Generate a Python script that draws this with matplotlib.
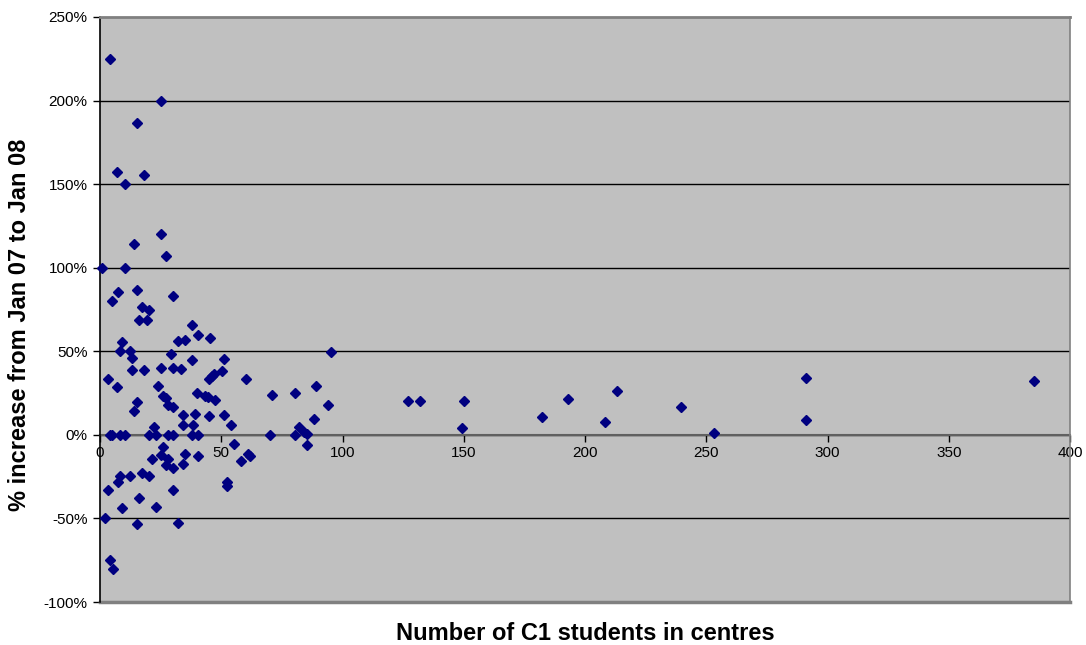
import matplotlib
matplotlib.use('Agg')
import matplotlib.pyplot as plt
from matplotlib.ticker import FuncFormatter, MultipleLocator

# Daten: Anzahl C1-Schueler je Zentrum und prozentuale Veraenderung
schueler = [
    4.1, 25.3, 15.1, 7.1, 18.1, 10.2, 25.3, 14.1, 27.2, 0.9,
    10.2, 7.3, 5.1, 15.1, 30.1, 17.2, 20.2, 16.0, 19.2, 38.1,
    40.3, 45.2, 9.2, 32.0, 35.0, 8.1, 12.4, 13.3, 29.1, 51.3,
    38.1, 13.3, 18.1, 25.3, 30.1, 33.3, 50.2, 47.0, 46.1, 45.1,
    60.1, 3.2, 7.1, 24.0, 26.1, 27.3, 27.9, 30.1, 15.1, 14.1,
    40.1, 43.3, 44.4, 47.3, 70.9, 34.2, 39.2, 45.1, 51.3, 54.1,
    34.2, 38.2, 22.4,
    4.0, 4.8, 8.1, 10.2, 20.2, 23.2, 27.9, 30.1, 38.1, 40.4, 70.2, 80.3,
    55.4, 26.1, 25.3, 28.2, 21.3, 35.1, 40.3, 27.1, 30.1, 34.2,
    58.1, 61.2, 62.0, 17.2, 20.2, 12.2, 8.2, 7.3, 52.2, 52.4,
    3.2, 30.2, 16.2, 9.2, 23.1, 2.2, 15.1, 32.3, 4.0, 5.2,
    95.1, 80.3, 89.1, 94.1, 88.1, 82.1, 84.1, 85.2, 85.2,
    127.1, 132.1, 150.1, 149.1, 182.1, 193.1, 208.1, 213.1, 239.5,
    253.1, 291.0, 291.0, 385.2,
]
zuwachs = [
    225, 200, 186.5, 157, 155.3, 150, 120, 114.2, 107, 100,
    100, 85.5, 80, 86.5, 83, 76.6, 74.8, 68.8, 68.6, 65.8,
    60, 57.8, 55.6, 56.4, 56.8, 50, 50, 46, 48.3, 45.2,
    44.9, 38.7, 38.9, 40, 40, 39.5, 38.2, 36.5, 35.3, 33.3,
    33.5, 33.5, 28.7, 29.3, 23.5, 22.3, 17.9, 16.7, 19.9, 14.2,
    25.3, 23.5, 22.9, 21.1, 23.9, 11.8, 12.7, 11, 11.8, 5.6,
    5.8, 5.6, 5,
    0, 0, 0, 0, 0, 0, 0, 0, 0, 0, 0, 0,
    -5.4, -7.2, -11.8, -14.4, -14.4, -11.2, -12.4, -17.9, -20, -17.5,
    -15.4, -11.5, -12.6, -23.1, -24.7, -24.9, -24.5, -28.5, -28.5, -30.3,
    -33, -33.1, -37.5, -44, -43.3, -49.8, -53.2, -53, -74.8, -80,
    49.6, 25.1, 29.1, 17.9, 9.4, 4.8, 1.8, 0.4, -5.8,
    20.5, 20.5, 20.1, 4, 10.6, 21.7, 7.8, 26.3, 16.9,
    1, 33.9, 8.8, 32.5,
]

plt.rcParams['font.family'] = ['Liberation Sans', 'DejaVu Sans']

fig = plt.figure(figsize=(10.86, 6.45), dpi=100)
ax = fig.add_axes([100 / 1086, 1 - 602 / 645, 970 / 1086, 585 / 645])
ax.set_facecolor('#C0C0C0')

ax.set_xlim(0, 400)
ax.set_ylim(-100, 250)

# Gitterlinien
for y in range(-50, 250, 50):
    ax.axhline(y, color='black', lw=1, zorder=1)

ax.plot(schueler, zuwachs, ls='none', marker='D', ms=5.2,
        color='#000080', zorder=3, clip_on=False)

# Achsen im Excel-Stil
ax.spines['bottom'].set_position(('data', 0))
ax.spines['bottom'].set_color('#606060')
ax.spines['bottom'].set_linewidth(1.5)
ax.spines['bottom'].set_zorder(2)
ax.spines['left'].set_color('black')
ax.spines['left'].set_linewidth(1.2)
ax.spines['top'].set_color('#808080')
ax.spines['top'].set_linewidth(2)
ax.spines['right'].set_color('#808080')
ax.spines['right'].set_linewidth(1.2)
ax.plot([0, 400], [-100, -100], color='#808080', lw=2.5, clip_on=False, zorder=2)

ax.xaxis.set_major_locator(MultipleLocator(50))
ax.yaxis.set_major_locator(MultipleLocator(50))
ax.yaxis.set_major_formatter(FuncFormatter(lambda v, p: f'{int(round(v))}%'))
ax.tick_params(axis='x', direction='out', length=5, width=1, color='black',
               labelsize=11, pad=3)
ax.tick_params(axis='y', direction='out', length=5, width=1, color='black',
               labelsize=11, pad=4)

fig.text(585 / 1086, 1 - 633 / 645, 'Number of C1 students in centres', ha='center',
         va='center', fontsize=17, fontweight='bold')
fig.text(20 / 1086, 1 - 325 / 645, '% increase from Jan 07 to Jan 08', ha='center',
         va='center', rotation=90, fontsize=17, fontweight='bold')

fig.savefig('out.png', dpi=100)
